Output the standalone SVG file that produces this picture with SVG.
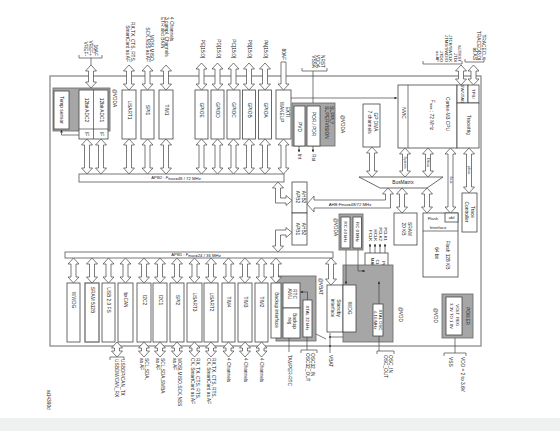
<svg xmlns="http://www.w3.org/2000/svg" width="560" height="431" viewBox="0 0 560 431">
<defs>
<marker id="ah" viewBox="0 0 6 6" refX="5.5" refY="3" markerWidth="4" markerHeight="4" orient="auto"><path d="M0 0L6 3L0 6z" fill="#333"/></marker>
<style>
text{font-family:"Liberation Sans",Arial,sans-serif;font-size:4.8px;fill:#222;dominant-baseline:central}
.m{text-anchor:middle}.e{text-anchor:end}
.s{font-size:3.6px}
.h{font-size:4.3px}
.b{fill:#fff;stroke:#444;stroke-width:.8}
.g{fill:#a6a6a6;stroke:#666;stroke-width:.8}
.a{fill:#fff;stroke:#444;stroke-width:.7}
.l{fill:none;stroke:#444;stroke-width:.7}
.bd{fill:none;stroke:#8c8c8c;stroke-width:1.3}
.bar{fill:#fff;stroke:#555;stroke-width:.8}
</style>
</defs>
<rect width="560" height="431" fill="#fff"/>
<rect y="418" width="560" height="13" fill="#eef1ef"/>
<rect class="bd" x="50" y="76" width="431" height="270"/>

<!-- nodes -->
<g id="adc">
<rect class="g" x="53" y="88" width="57" height="43"/>
<rect class="b" x="54" y="91" width="15" height="38"/>
<rect class="b" x="79" y="90" width="29" height="49"/>
<path class="l" d="M93.5 90V139M79 129H108"/>
<text class="m" x="61.5" y="110" transform="rotate(90 61.5 110)">Temp sensor</text>
<text class="m" x="86" y="110" transform="rotate(90 86 110)">12bit ADC2</text>
<text class="m" x="101" y="110" transform="rotate(90 101 110)">12bit ADC1</text>
<text class="m" x="86" y="134" transform="rotate(90 86 134)">IF</text>
<text class="m" x="101" y="134" transform="rotate(90 101 134)">IF</text>
<text x="114" y="89" transform="rotate(90 114 89)">@VDDA</text>
</g>
<g id="usart1"><rect class="b" x="122" y="90" width="14" height="49"/><text class="m" x="129" y="110" transform="rotate(90 129 110)">USART1</text></g>
<g id="spi1"><rect class="b" x="141" y="90" width="13" height="49"/><text class="m" x="147.5" y="110" transform="rotate(90 147.5 110)">SPI1</text></g>
<g id="tim1"><rect class="b" x="159" y="90" width="14" height="49"/><text class="m" x="166" y="110" transform="rotate(90 166 110)">TIM1</text></g>
<g id="gpioe"><rect class="b" x="195" y="90" width="13" height="49"/><text class="m" x="201.5" y="110" transform="rotate(90 201.5 110)">GPIOE</text></g>
<g id="gpiod"><rect class="b" x="211" y="90" width="13" height="49"/><text class="m" x="217.5" y="110" transform="rotate(90 217.5 110)">GPIOD</text></g>
<g id="gpioc"><rect class="b" x="227" y="90" width="13" height="49"/><text class="m" x="233.5" y="110" transform="rotate(90 233.5 110)">GPIOC</text></g>
<g id="gpiob"><rect class="b" x="242.5" y="90" width="13" height="49"/><text class="m" x="249" y="110" transform="rotate(90 249 110)">GPIOB</text></g>
<g id="gpioa"><rect class="b" x="258.5" y="90" width="13" height="49"/><text class="m" x="265" y="110" transform="rotate(90 265 110)">GPIOA</text></g>
<g id="exti"><rect class="b" x="276" y="90" width="15" height="49"/><text class="m" x="287" y="112" transform="rotate(90 287 112)">EXTI</text><text class="m" x="281" y="112" transform="rotate(90 281 112)">WAKEUP</text></g>
<g id="supply">
<rect class="g" x="292" y="103" width="43" height="43"/>
<rect class="b" x="294" y="106" width="11" height="40"/>
<rect class="b" x="307" y="106" width="13" height="40"/>
<text class="m" x="299.5" y="127" transform="rotate(90 299.5 127)">PVD</text>
<text class="m" x="313.5" y="124" transform="rotate(90 313.5 124)">POR / PDR</text>
<text x="331" y="106" transform="rotate(90 331 106)">SUPPLY</text>
<text x="326" y="106" transform="rotate(90 326 106)">SUPERVISION</text>
<text x="342" y="115" transform="rotate(90 342 115)">@VDDA</text>
</g>
<g id="dma"><rect class="b" x="363" y="104" width="17" height="43"/><text class="m" x="375" y="122" transform="rotate(90 375 122)">GP DMA</text><text class="m" x="369" y="122" transform="rotate(90 369 122)">7 channels</text></g>
<g id="cortex">
<rect class="b" x="398" y="85" width="59" height="63"/>
<path class="l" d="M408 85V148"/>
<text class="m" x="403" y="113" transform="rotate(90 403 113)">NVIC</text>
<text class="m" x="447" y="114" transform="rotate(90 447 114)">Cortex-M3 CPU</text>
<text class="m" x="432" y="115" transform="rotate(90 432 115)">F<tspan class="s" dy="1">max</tspan><tspan dy="-1"> : 72 MHz</tspan></text>
<rect class="b" x="457" y="85" width="11" height="18"/>
<rect class="b" x="468" y="85" width="11" height="18"/>
<rect class="b" x="457" y="103" width="22" height="45"/>
<text class="m h" x="462.5" y="94" transform="rotate(90 462.5 94)">SW/JTAG</text>
<text class="m h" x="473.5" y="94" transform="rotate(90 473.5 94)">TPIU</text>
<text class="m" x="468" y="125" transform="rotate(90 468 125)">Trace/trig</text>
</g>
<g id="busmatrix"><path class="b" d="M359 177H443L427 188H380Z"/><text class="m" x="403" y="182.5">BusMatrix</text></g>
<g id="apb2bar"><rect class="bar" x="79" y="174" width="205" height="8"/><text class="m h" x="176" y="177.8">APB2 : F<tspan class="s" dy="1">max</tspan><tspan dy="-1">=48 / 72 MHz</tspan></text></g>
<g id="ahb2apb2"><rect class="b" x="292" y="182" width="15" height="31"/><text class="m" x="303" y="197" transform="rotate(90 303 197)">AHB2</text><text class="m" x="297" y="197" transform="rotate(90 297 197)">APB2</text></g>
<g id="ahb2apb1"><rect class="b" x="292" y="213" width="15" height="32"/><text class="m" x="303" y="229" transform="rotate(90 303 229)">AHB2</text><text class="m" x="297" y="229" transform="rotate(90 297 229)">APB1</text></g>
<g id="tracectl"><rect class="b" x="462" y="193" width="15" height="39"/><text class="m" x="472.5" y="212" transform="rotate(90 472.5 212)">Trace</text><text class="m" x="466.5" y="212" transform="rotate(90 466.5 212)">Controller</text></g>
<g id="sram"><rect class="b" x="394" y="213" width="23" height="32"/><text class="m" x="409" y="229" transform="rotate(90 409 229)">SRAM</text><text class="m" x="403" y="229" transform="rotate(90 403 229)">20 KB</text></g>
<g id="flash">
<rect class="b" x="423" y="213" width="35" height="64"/>
<path class="l" d="M423 231H458"/>
<rect class="b" x="445" y="213" width="13" height="9"/>
<text class="m h" x="451.5" y="217.5">obl</text>
<text class="m h" x="433" y="218">Flash</text>
<text class="m h" x="438" y="227">Interface</text>
<text class="m" x="447" y="255" transform="rotate(90 447 255)">Flash 128 KB</text>
<text class="m" x="436" y="253" transform="rotate(90 436 253)">64 bit</text>
</g>
<g id="rc">
<rect class="g" x="339" y="214" width="24" height="36"/>
<rect class="b" x="341" y="217" width="9" height="31"/>
<rect class="b" x="353" y="217" width="8.5" height="31"/>
<text class="m h" x="345.5" y="232" transform="rotate(90 345.5 232)">RC 40 kHz</text>
<text class="m h" x="357.3" y="232" transform="rotate(90 357.3 232)">RC 8 MHz</text>
<text x="335.5" y="218" transform="rotate(90 335.5 218)">@VDDA</text>
</g>
<g id="pll">
<rect class="b" x="365" y="253" width="23" height="28"/>
<text class="m h" x="383" y="267" transform="rotate(90 383 267)">PLL &amp;</text>
<text class="m h" x="377.5" y="267" transform="rotate(90 377.5 267)">CLOCK</text>
<text class="m h" x="372" y="267" transform="rotate(90 372 267)">MANAGT</text>
<text class="e h" x="385" y="241" transform="rotate(90 385 241)">PCLK1</text>
<text class="e h" x="380" y="241" transform="rotate(90 380 241)">PCLK2</text>
<text class="e h" x="375" y="241" transform="rotate(90 375 241)">HCLK</text>
<text class="e h" x="370" y="241" transform="rotate(90 370 241)">FCLK</text>
</g>
<g id="apb1bar"><rect class="bar" x="65" y="252" width="268" height="6"/><text class="m h" x="196" y="254.8">APB1 : F<tspan class="s" dy="1">max</tspan><tspan dy="-1">=24 / 36 MHz</tspan></text></g>
<g id="wwdg"><rect class="b" x="67" y="283" width="13" height="59"/><text class="m" x="73.5" y="300" transform="rotate(90 73.5 300)">WWDG</text></g>
<g id="sram512"><rect class="b" x="85" y="283" width="14" height="59" style="stroke:#777;stroke-width:1.4"/><text class="m" x="92" y="300" transform="rotate(90 92 300)">SRAM 512B</text></g>
<g id="usb"><rect class="b" x="102" y="283" width="13" height="59"/><text class="m" x="108.5" y="300" transform="rotate(90 108.5 300)">USB 2.0 FS</text></g>
<g id="bxcan"><rect class="b" x="118" y="283" width="15" height="59"/><text class="m" x="125.5" y="300" transform="rotate(90 125.5 300)">bxCAN</text></g>
<g id="i2c2"><rect class="b" x="137" y="283" width="14" height="59"/><text class="m" x="144" y="300" transform="rotate(90 144 300)">I2C2</text></g>
<g id="i2c1"><rect class="b" x="153" y="283" width="14" height="59"/><text class="m" x="160" y="300" transform="rotate(90 160 300)">I2C1</text></g>
<g id="spi2"><rect class="b" x="170" y="283" width="14" height="59"/><text class="m" x="177" y="300" transform="rotate(90 177 300)">SPI2</text></g>
<g id="usart3"><rect class="b" x="187" y="283" width="15" height="59"/><text class="m" x="194.5" y="302" transform="rotate(90 194.5 302)">USART3</text></g>
<g id="usart2"><rect class="b" x="204" y="283" width="14" height="59"/><text class="m" x="211" y="302" transform="rotate(90 211 302)">USART2</text></g>
<g id="tim4"><rect class="b" x="222" y="283" width="13" height="59"/><text class="m" x="228.5" y="302" transform="rotate(90 228.5 302)">TIM4</text></g>
<g id="tim3"><rect class="b" x="238" y="283" width="14" height="59"/><text class="m" x="245" y="302" transform="rotate(90 245 302)">TIM3</text></g>
<g id="tim2"><rect class="b" x="255" y="283" width="13" height="59"/><text class="m" x="261.5" y="302" transform="rotate(90 261.5 302)">TIM2</text></g>
<g id="backup">
<rect class="g" x="276" y="276" width="40" height="65"/>
<rect class="b" x="271" y="283" width="10" height="55"/>
<text class="m" x="276" y="310" transform="rotate(90 276 310)">Backup interface</text>
<rect class="b" x="283" y="283" width="17" height="25"/>
<rect class="b" x="283" y="308" width="17" height="30"/>
<text class="m" x="294" y="294" transform="rotate(90 294 294)">RTC</text>
<text class="m" x="289" y="294" transform="rotate(90 289 294)">AWU</text>
<text class="m" x="294" y="321" transform="rotate(90 294 321)">Backup</text>
<text class="m" x="289" y="321" transform="rotate(90 289 321)">reg</text>
<rect class="b" x="303" y="300" width="9" height="37"/>
<text class="m h" x="307.5" y="318" transform="rotate(90 307.5 318)">XTAL 32 kHz</text>
<text x="320" y="278" transform="rotate(90 320 278)">@VBAT</text>
</g>
<g id="standby">
<rect class="g" x="343" y="265" width="50" height="77"/>
<rect class="b" x="327" y="285" width="16" height="47"/>
<rect class="b" x="343" y="285" width="13" height="47"/>
<text class="m" x="338" y="308" transform="rotate(90 338 308)">Standby</text>
<text class="m" x="332.5" y="308" transform="rotate(90 332.5 308)">interface</text>
<text class="m" x="349.5" y="308" transform="rotate(90 349.5 308)">IWDG</text>
<rect class="b" x="373" y="304" width="10" height="32"/>
<text class="m h" x="380.5" y="320" transform="rotate(90 380.5 320)">XTAL OSC</text>
<text class="m h" x="375.5" y="320" transform="rotate(90 375.5 320)">4-16 MHz</text>
<text x="400" y="307" transform="rotate(90 400 307)">@VDD</text>
</g>
<g id="power">
<rect class="g" x="442" y="294" width="31" height="44"/>
<rect class="b" x="446" y="297" width="16" height="38"/>
<text class="m" x="467.5" y="316" transform="rotate(90 467.5 316)">POWER</text>
<text class="m h" x="457" y="316" transform="rotate(90 457 316)">VOLT. REG.</text>
<text class="m h" x="451" y="316" transform="rotate(90 451 316)">3.3V TO 1.8V</text>
<text x="435.5" y="308" transform="rotate(90 435.5 308)">@VDD</text>
</g>

<!-- external labels -->
<g id="labels">
<text class="e" x="95" y="56" transform="rotate(90 95 56)">16AF</text>
<text class="e" x="90" y="56" transform="rotate(90 90 56)">VREF+</text>
<text class="e" x="85" y="56" transform="rotate(90 85 56)">VREF-</text>
<text class="e" x="132" y="62" transform="rotate(90 132 62)">RX,TX, CTS, RTS,</text>
<text class="e" x="127.5" y="62" transform="rotate(90 127.5 62)">SmartCard as AF</text>
<text class="e" x="151.5" y="62" transform="rotate(90 151.5 62)">MOSI,MISO,</text>
<text class="e" x="147" y="62" transform="rotate(90 147 62)">SCK,NSS as AF</text>
<text x="171" y="17" transform="rotate(90 171 17)">4 Channels</text>
<text x="166.5" y="17" transform="rotate(90 166.5 17)">3 compl. Channels</text>
<text x="162" y="17" transform="rotate(90 162 17)">ETR and BKIN</text>
<text class="e" x="202" y="58" transform="rotate(90 202 58)">PE[15:0]</text>
<text class="e" x="218" y="58" transform="rotate(90 218 58)">PD[15:0]</text>
<text class="e" x="233.5" y="58" transform="rotate(90 233.5 58)">PC[15:0]</text>
<text class="e" x="249.5" y="58" transform="rotate(90 249.5 58)">PB[15:0]</text>
<text class="e" x="265.5" y="58" transform="rotate(90 265.5 58)">PA[15:0]</text>
<text class="e" x="283.5" y="60" transform="rotate(90 283.5 60)">80AF</text>
<text class="e" x="322" y="68" transform="rotate(90 322 68)">NRST</text>
<text class="e" x="317.5" y="68" transform="rotate(90 317.5 68)">VDDA</text>
<text class="e" x="313" y="68" transform="rotate(90 313 68)">VSSA</text>
<text class="e h" x="459" y="62" transform="rotate(90 459 62)">NJTRST</text>
<text class="e h" x="455" y="62" transform="rotate(90 455 62)">JTDI</text>
<text class="e h" x="450.5" y="62" transform="rotate(90 450.5 62)">JTCK/SWCLK</text>
<text class="e h" x="446" y="62" transform="rotate(90 446 62)">JTMS/SWDIO</text>
<text class="e h" x="441.5" y="62" transform="rotate(90 441.5 62)">JTDO</text>
<text class="e h" x="437" y="62" transform="rotate(90 437 62)">as AF</text>
<text class="e" x="483" y="60" transform="rotate(90 483 60)">TRACECLK</text>
<text class="e" x="478.5" y="60" transform="rotate(90 478.5 60)">TRACED[3:0]</text>
<text class="e" x="474" y="60" transform="rotate(90 474 60)">as AS</text>
<text x="299" y="154" transform="rotate(90 299 154)">Int</text>
<text x="313" y="154" transform="rotate(90 313 154)">Rst</text>
<text x="122.5" y="359" transform="rotate(90 122.5 359)">USBDP/CAN_TX</text>
<text x="116" y="359" transform="rotate(90 116 359)">USBDM/CAN_RX</text>
<text x="146.5" y="358" transform="rotate(90 146.5 358)">SCL,SDA,</text>
<text x="141.5" y="358" transform="rotate(90 141.5 358)">as AF</text>
<text x="162.5" y="358" transform="rotate(90 162.5 358)">SCL,SDA,SMBA</text>
<text x="157.5" y="358" transform="rotate(90 157.5 358)">as AF</text>
<text x="179.5" y="358" transform="rotate(90 179.5 358)">MOSI,MISO,SCK,NSS</text>
<text x="174.5" y="358" transform="rotate(90 174.5 358)">as AF</text>
<text x="197.5" y="358" transform="rotate(90 197.5 358)">RX, TX, CTS, RTS,</text>
<text x="192.5" y="358" transform="rotate(90 192.5 358)">CK, SmartCard as AF</text>
<text x="213.5" y="358" transform="rotate(90 213.5 358)">RX,TX, CTS, RTS,</text>
<text x="208.5" y="358" transform="rotate(90 208.5 358)">CK, SmartCard as AF</text>
<text x="228.5" y="358" transform="rotate(90 228.5 358)">4 Channels</text>
<text x="245" y="358" transform="rotate(90 245 358)">4 Channels</text>
<text x="261.5" y="358" transform="rotate(90 261.5 358)">4 Channels</text>
<text x="289" y="355" transform="rotate(90 289 355)">TAMPER-RTC</text>
<text x="312" y="353" transform="rotate(90 312 353)">OSC32_IN</text>
<text x="307" y="353" transform="rotate(90 307 353)">OSC32_OUT</text>
<text x="330" y="355" transform="rotate(90 330 355)">VBAT</text>
<text x="390" y="355" transform="rotate(90 390 355)">OSC_IN</text>
<text x="385" y="355" transform="rotate(90 385 355)">OSC_OUT</text>
<text x="462" y="357" transform="rotate(90 462 357)">VDD = 2 to 3.6V</text>
<text x="450" y="357" transform="rotate(90 450 357)">VSS</text>
<text x="48" y="390" transform="rotate(90 48 390)">ai14390d</text>
</g>

<!-- connectors -->
<g id="connectors">
<path class="l" d="M79 55V58H102V55M91 58V65M302 68V71H327V68M313 71V103M423 61V64H462V61M465 59V62H484V59"/>
<path class="l" d="M110 360V357H124V360M301 353V350H317V353M307 337V350M377 354V351H394V354M379 336V351M444 356V353H466V356M455 338V353M289 338V352"/>
<path class="l" d="M316 334L326 339M330 333V353M330 337H343"/>
<circle cx="330" cy="337" r=".9" fill="#333"/><circle cx="330" cy="346" r=".9" fill="#333"/>
<path class="l" marker-end="url(#ah)" d="M291 98H397"/>
<path class="l" marker-end="url(#ah)" d="M79 135H61.5V130"/>
<path class="l" marker-end="url(#ah)" d="M299 146V152"/>
<path class="l" marker-end="url(#ah)" d="M313 146V152"/>
<path class="l" marker-end="url(#ah)" d="M370 253V244"/>
<path class="l" marker-end="url(#ah)" d="M375 253V244"/>
<path class="l" marker-end="url(#ah)" d="M380 253V244"/>
<path class="l" marker-end="url(#ah)" d="M385 253V244"/>
<path class="l" marker-end="url(#ah)" d="M346 250V284"/>
<path class="l" marker-end="url(#ah)" d="M358 250V271H365"/>
<path class="l" marker-end="url(#ah)" d="M379 304V281.5"/>
<path class="l" marker-end="url(#ah)" d="M307.5 300V292H300.5"/>
<!-- top double arrows -->
<path class="a" d="M91 65l5.5 6h-3V82h3l-5.5 6l-5.5-6h3V71h-3z"/>
<path class="a" d="M129 65l5.5 6h-3V84h3l-5.5 6l-5.5-6h3V71h-3z"/>
<path class="a" d="M147.5 65l5.5 6h-3V84h3l-5.5 6l-5.5-6h3V71h-3z"/>
<path class="a" d="M166 65l5.5 6h-3V84h3l-5.5 6l-5.5-6h3V71h-3z"/>
<path class="a" d="M201.5 63l5.5 6h-3V84h3l-5.5 6l-5.5-6h3V69h-3z"/>
<path class="a" d="M217.5 63l5.5 6h-3V84h3l-5.5 6l-5.5-6h3V69h-3z"/>
<path class="a" d="M233.5 63l5.5 6h-3V84h3l-5.5 6l-5.5-6h3V69h-3z"/>
<path class="a" d="M249 63l5.5 6h-3V84h3l-5.5 6l-5.5-6h3V69h-3z"/>
<path class="a" d="M265 63l5.5 6h-3V84h3l-5.5 6l-5.5-6h3V69h-3z"/>
<path class="a" d="M281 62h5V84h3l-5.5 6l-5.5-6h3z"/>
<path class="a" d="M461 65l5.5 6h-3V79h3l-5.5 6l-5.5-6h3V71h-3z"/>
<path class="a" d="M473.5 65l5.5 6h-3V79h3l-5.5 6l-5.5-6h3V71h-3z"/>
<!-- APB2 arrows -->
<path class="a" d="M87 139l5.5 6h-3V168h3l-5.5 6l-5.5-6h3V145h-3z"/>
<path class="a" d="M101 139l5.5 6h-3V168h3l-5.5 6l-5.5-6h3V145h-3z"/>
<path class="a" d="M129 139l5.5 6h-3V168h3l-5.5 6l-5.5-6h3V145h-3z"/>
<path class="a" d="M147.5 139l5.5 6h-3V168h3l-5.5 6l-5.5-6h3V145h-3z"/>
<path class="a" d="M166 139l5.5 6h-3V168h3l-5.5 6l-5.5-6h3V145h-3z"/>
<path class="a" d="M201.5 139l5.5 6h-3V168h3l-5.5 6l-5.5-6h3V145h-3z"/>
<path class="a" d="M217.5 139l5.5 6h-3V168h3l-5.5 6l-5.5-6h3V145h-3z"/>
<path class="a" d="M233.5 139l5.5 6h-3V168h3l-5.5 6l-5.5-6h3V145h-3z"/>
<path class="a" d="M249 139l5.5 6h-3V168h3l-5.5 6l-5.5-6h3V145h-3z"/>
<path class="a" d="M265 139l5.5 6h-3V168h3l-5.5 6l-5.5-6h3V145h-3z"/>
<path class="a" d="M283.5 139l5.5 6h-3V168h3l-5.5 6l-5.5-6h3V145h-3z"/>
<!-- bridges -->
<path class="a" d="M278 182l5.5 6h-3V198H286v-2.5l6 5l-6 5v-2.5H275.5V188h-3z"/>
<path class="a" d="M278 252l5.5-6h-3V235H286v2.5l6-5l-6-5v2.5H275.5V246h-3z"/>
<path class="a" d="M388 188l5.5 6h-3V208H314v4l-7-8l7-8v4H385.5V194h-3z"/>
<text class="m h" x="350" y="204.3">AHB:F<tspan class="s" dy="1">max</tspan><tspan dy="-1">=48/72 MHz</tspan></text>
<!-- CPU / bus arrows -->
<path class="a" d="M372 147l5.5 6h-3V171h3l-5.5 6l-5.5-6h3V153h-3z"/>
<path class="a" d="M405 148l5.5 6h-3V171h3l-5.5 6l-5.5-6h3V154h-3z"/>
<path class="a" d="M428 148l5.5 6h-3V171h3l-5.5 6l-5.5-6h3V154h-3z"/>
<path class="a" d="M450.5 148l5.5 6h-3V207h3l-5.5 6l-5.5-6h3V154h-3z"/>
<path class="a" d="M469 148l5.5 6h-3V187h3l-5.5 6l-5.5-6h3V154h-3z"/>
<path class="a" d="M402 188l5.5 6h-3V207h3l-5.5 6l-5.5-6h3V194h-3z"/>
<path class="a" d="M427 188l5.5 6h-3V207h3l-5.5 6l-5.5-6h3V194h-3z"/>
<text class="m s" x="405" y="162.5" transform="rotate(90 405 162.5)">System</text>
<text class="m s" x="428" y="162.5" transform="rotate(90 428 162.5)">Dbus</text>
<text class="m s" x="450.5" y="180" transform="rotate(90 450.5 180)">Ibus</text>
<text class="m s" x="469" y="170" transform="rotate(90 469 170)">pbus</text>
<!-- APB1 arrows -->
<path class="a" d="M73.5 258l5.5 6h-3V277h3l-5.5 6l-5.5-6h3V264h-3z"/>
<path class="a" d="M92 258l5.5 6h-3V277h3l-5.5 6l-5.5-6h3V264h-3z"/>
<path class="a" d="M108.5 258l5.5 6h-3V277h3l-5.5 6l-5.5-6h3V264h-3z"/>
<path class="a" d="M125.5 258l5.5 6h-3V277h3l-5.5 6l-5.5-6h3V264h-3z"/>
<path class="a" d="M144 258l5.5 6h-3V277h3l-5.5 6l-5.5-6h3V264h-3z"/>
<path class="a" d="M160 258l5.5 6h-3V277h3l-5.5 6l-5.5-6h3V264h-3z"/>
<path class="a" d="M177 258l5.5 6h-3V277h3l-5.5 6l-5.5-6h3V264h-3z"/>
<path class="a" d="M194.5 258l5.5 6h-3V277h3l-5.5 6l-5.5-6h3V264h-3z"/>
<path class="a" d="M211 258l5.5 6h-3V277h3l-5.5 6l-5.5-6h3V264h-3z"/>
<path class="a" d="M228.5 258l5.5 6h-3V277h3l-5.5 6l-5.5-6h3V264h-3z"/>
<path class="a" d="M245 258l5.5 6h-3V277h3l-5.5 6l-5.5-6h3V264h-3z"/>
<path class="a" d="M261.5 258l5.5 6h-3V277h3l-5.5 6l-5.5-6h3V264h-3z"/>
<path class="a" d="M276 258l5.5 6h-3V277h3l-5.5 6l-5.5-6h3V264h-3z"/>
<path class="a" d="M331 258l5.5 6h-3V279h3l-5.5 6l-5.5-6h3V264h-3z"/>
<!-- bottom arrows -->
<path class="a" d="M117 342l5.5 6h-3V351h3l-5.5 6l-5.5-6h3V348h-3z"/>
<path class="a" d="M144 342l5.5 6h-3V351h3l-5.5 6l-5.5-6h3V348h-3z"/>
<path class="a" d="M160 342l5.5 6h-3V351h3l-5.5 6l-5.5-6h3V348h-3z"/>
<path class="a" d="M177 342l5.5 6h-3V351h3l-5.5 6l-5.5-6h3V348h-3z"/>
<path class="a" d="M194.5 342l5.5 6h-3V351h3l-5.5 6l-5.5-6h3V348h-3z"/>
<path class="a" d="M211 342l5.5 6h-3V351h3l-5.5 6l-5.5-6h3V348h-3z"/>
<path class="a" d="M228.5 342l5.5 6h-3V351h3l-5.5 6l-5.5-6h3V348h-3z"/>
<path class="a" d="M245 342l5.5 6h-3V351h3l-5.5 6l-5.5-6h3V348h-3z"/>
<path class="a" d="M261.5 342l5.5 6h-3V351h3l-5.5 6l-5.5-6h3V348h-3z"/>
</g>
</svg>
